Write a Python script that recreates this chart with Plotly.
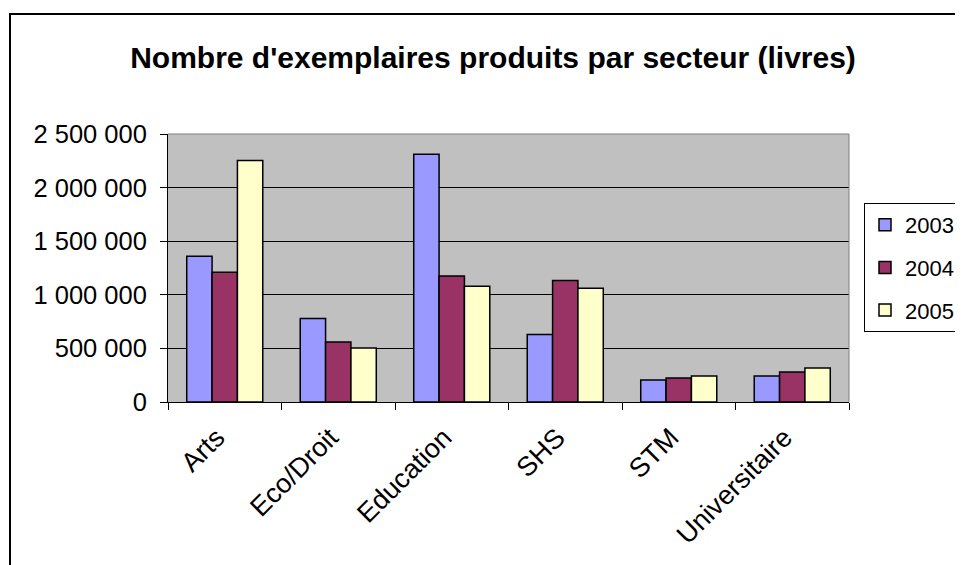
import plotly.graph_objects as go

categories = ["Arts", "Eco/Droit", "Education", "SHS", "STM", "Universitaire"]
years = ["2003", "2004", "2005"]
v2003 = [1360000, 780000, 2310000, 630000, 205000, 242000]
v2004 = [1210000, 560000, 1175000, 1133000, 224000, 280000]
v2005 = [2252000, 503000, 1080000, 1060000, 242000, 317000]
colors = ["#9999FF", "#993366", "#FFFFCC"]
y_ticks = [0, 500000, 1000000, 1500000, 2000000, 2500000]

FONT = "Liberation Sans, Arial, sans-serif"
OFF = 8  # page body margin offset

fig = go.Figure()
for name, vals, col in zip(years, [v2003, v2004, v2005], colors):
    fig.add_trace(go.Bar(
        x=categories, y=vals, name=name, legendgroup=name,
        marker=dict(color=col, line=dict(color="black", width=1.5)),
    ))

W, H = 963 - OFF, 565 - OFF
L, R, T, B = 168 - OFF, 849 - OFF, 134 - OFF, 402 - OFF
pw, ph = R - L, B - T

def px2x(px):
    return (px - OFF - L) / pw

def py2y(py):
    return (B - (py - OFF)) / ph

fig.update_layout(
    width=W, height=H,
    margin=dict(l=L, r=W - R, t=T, b=H - B, autoexpand=False),
    paper_bgcolor="white",
    plot_bgcolor="#C0C0C0",
    separators=", ",
    barmode="group",
    bargap=0.33,
    bargroupgap=0,
    font=dict(family=FONT, color="black", size=24),
    title=dict(
        text="<b>Nombre d'exemplaires produits par secteur (livres)</b>",
        font=dict(family=FONT, size=30, color="black"),
        x=(493 - OFF) / W, xanchor="center", xref="container",
        y=1 - (57 - OFF) / H, yanchor="middle", yref="container",
    ),
    xaxis=dict(
        type="category",
        tickangle=-45,
        tickson="boundaries",
        ticks="outside", ticklen=7, tickcolor="black", tickwidth=1,
        showline=True, linecolor="black", linewidth=1,
        showgrid=False,
        ticklabelstandoff=8,
        ticklabelshift=-8,
        tickfont=dict(family=FONT, size=27, color="black"),
    ),
    yaxis=dict(
        range=[0, 2500000],
        tickvals=y_ticks,
        tickformat=",d",
        ticks="outside", ticklen=7, tickcolor="black", tickwidth=1,
        showline=True, linecolor="black", linewidth=1,
        showgrid=True, gridcolor="black", gridwidth=1,
        zeroline=False,
        ticklabelstandoff=8,
        tickfont=dict(family=FONT, size=25.5, color="black"),
    ),
    legend=dict(
        x=px2x(864), xanchor="left",
        y=py2y(203), yanchor="top",
        bordercolor="black", borderwidth=1,
        bgcolor="white",
        font=dict(family=FONT, size=22, color="black"),
        tracegroupgap=11,
        traceorder="grouped",
    ),
    showlegend=True,
)

# plot-area border (grey top and right edges)
fig.add_shape(type="line", xref="paper", yref="paper", x0=0, x1=1, y0=1, y1=1,
              line=dict(color="#808080", width=1))
fig.add_shape(type="line", xref="paper", yref="paper", x0=1, x1=1, y0=0, y1=1,
              line=dict(color="#808080", width=1))
# outer chart frame
fig.add_shape(type="rect", xref="paper", yref="paper",
              x0=px2x(10), x1=px2x(980), y0=py2y(14), y1=py2y(590),
              line=dict(color="black", width=2), fillcolor="rgba(0,0,0,0)")

fig.write_html("out.html")
